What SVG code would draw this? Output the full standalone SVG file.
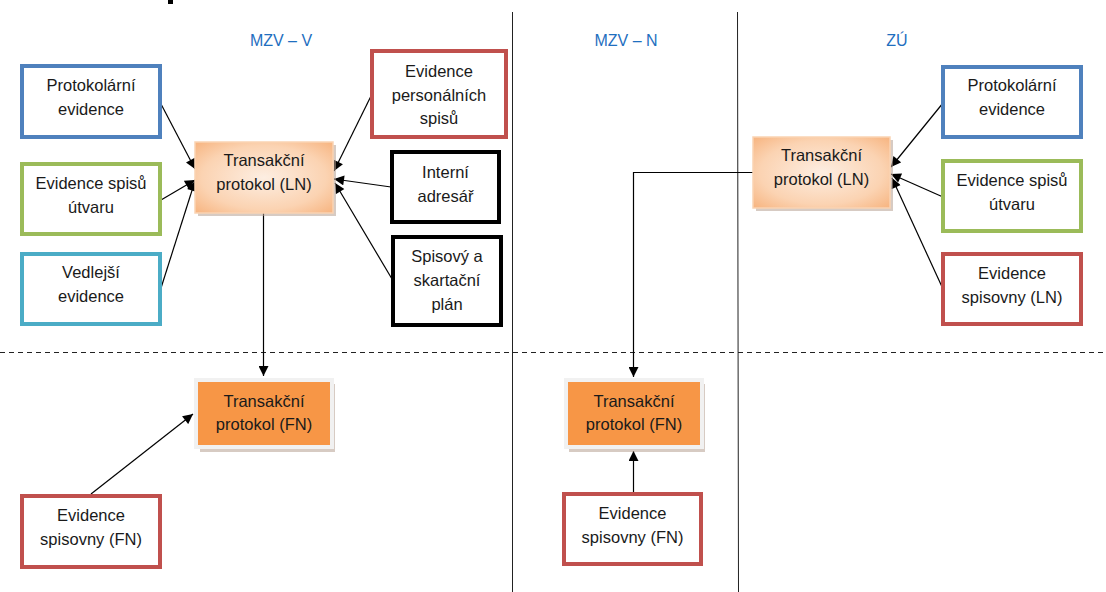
<svg xmlns="http://www.w3.org/2000/svg" width="1106" height="592" viewBox="0 0 1106 592">
<style>
text{font-family:"Liberation Sans",Arial,sans-serif;font-size:16.5px;fill:#1a1a1a;text-anchor:middle}
.hdr{fill:#1f6fbf;font-size:16px}
.box{fill:#fff;stroke-width:4}
.blue{stroke:#4f81bd}.green{stroke:#9bbb59}.cyan{stroke:#4bacc6}.red{stroke:#c0504d}.black{stroke:#000}
.ln{fill:url(#lg);stroke:#fad3b3;stroke-width:1.5}
.fn{fill:#f79646;stroke:#f1f1f1;stroke-width:4}
.sh{fill:#b7a191;opacity:.55}
.c{stroke:#000;stroke-width:1.2;fill:none}
.sep{stroke:#222;stroke-width:1}
</style>
<defs>
<radialGradient id="lg" cx="50%" cy="50%" r="75%">
<stop offset="0" stop-color="#fdeee2"/>
<stop offset="0.6" stop-color="#fbd3b2"/>
<stop offset="1" stop-color="#f6ae76"/>
</radialGradient>
<marker id="ah" viewBox="0 0 10 10" refX="10" refY="5" markerWidth="11" markerHeight="10" markerUnits="userSpaceOnUse" orient="auto">
<path d="M0,0 L10,5 L0,10 z" fill="#000"/>
</marker>
</defs>
<rect width="1106" height="592" fill="#fff"/>
<rect x="168" y="0" width="5" height="4" fill="#000"/>
<g id="separators">
<line class="sep" x1="512.5" y1="12" x2="512.5" y2="592"/>
<line class="sep" x1="737.5" y1="12" x2="738.5" y2="592"/>
<line class="sep" x1="0" y1="352.5" x2="1106" y2="352.5" stroke-dasharray="5,4"/>
</g>
<g id="headers">
<text class="hdr" x="281" y="46">MZV – V</text>
<text class="hdr" x="626" y="46">MZV – N</text>
<text class="hdr" x="897" y="46">ZÚ</text>
</g>
<g id="connectors">
<line class="c" x1="161" y1="104" x2="195" y2="169" marker-end="url(#ah)"/>
<line class="c" x1="161" y1="200" x2="195" y2="180" marker-end="url(#ah)"/>
<line class="c" x1="161" y1="288" x2="195" y2="181" marker-end="url(#ah)"/>
<line class="c" x1="372" y1="94" x2="334" y2="171" marker-end="url(#ah)"/>
<line class="c" x1="391" y1="187" x2="334" y2="179" marker-end="url(#ah)"/>
<line class="c" x1="392" y1="279" x2="335" y2="183" marker-end="url(#ah)"/>
<line class="c" x1="263.5" y1="213" x2="263.5" y2="376" marker-end="url(#ah)"/>
<line class="c" x1="91" y1="494" x2="193" y2="414" marker-end="url(#ah)"/>
<polyline class="c" points="753,172.5 633.5,172.5 633.5,377" marker-end="url(#ah)"/>
<line class="c" x1="633.5" y1="493" x2="633.5" y2="451" marker-end="url(#ah)"/>
<line class="c" x1="943" y1="103" x2="891" y2="167" marker-end="url(#ah)"/>
<line class="c" x1="943" y1="197" x2="891" y2="174" marker-end="url(#ah)"/>
<line class="c" x1="943" y1="289" x2="892" y2="178" marker-end="url(#ah)"/>
</g>
<g id="n-protokolarni-v">
<rect class="box blue" x="22" y="66" width="138" height="71"/>
<text x="91" y="91">Protokolární</text><text x="91" y="115">evidence</text>
</g>
<g id="n-spisu-utvaru-v">
<rect class="box green" x="22" y="164" width="138" height="70"/>
<text x="91" y="189">Evidence spisů</text><text x="91" y="213">útvaru</text>
</g>
<g id="n-vedlejsi-v">
<rect class="box cyan" x="22" y="254" width="138" height="70"/>
<text x="91" y="278">Vedlejší</text><text x="91" y="302">evidence</text>
</g>
<g id="n-tp-ln-v">
<rect class="sh" x="198" y="145" width="138" height="71"/>
<rect class="ln" x="195" y="142" width="138" height="71"/>
<text x="264" y="166">Transakční</text><text x="264" y="190">protokol (LN)</text>
</g>
<g id="n-personalnich-v">
<rect class="box red" x="372" y="51" width="134" height="86"/>
<text x="439" y="77">Evidence</text><text x="439" y="101">personálních</text><text x="439" y="124">spisů</text>
</g>
<g id="n-interni-v">
<rect class="box black" x="392" y="152" width="107" height="70"/>
<text x="445.5" y="178">Interní</text><text x="445.5" y="202">adresář</text>
</g>
<g id="n-spisovy-plan-v">
<rect class="box black" x="393" y="237" width="108" height="88"/>
<text x="447" y="262">Spisový a</text><text x="447" y="286">skartační</text><text x="447" y="310">plán</text>
</g>
<g id="n-tp-fn-v">
<rect class="sh" x="200" y="384" width="135" height="68"/>
<rect class="fn" x="196" y="380" width="136" height="67"/>
<text x="264" y="407">Transakční</text><text x="264" y="430">protokol (FN)</text>
</g>
<g id="n-spisovny-fn-v">
<rect class="box red" x="22" y="496" width="138" height="71"/>
<text x="91" y="521">Evidence</text><text x="91" y="545">spisovny (FN)</text>
</g>
<g id="n-tp-fn-n">
<rect class="sh" x="569" y="384" width="136" height="68"/>
<rect class="fn" x="566" y="380" width="136" height="67"/>
<text x="634" y="407">Transakční</text><text x="634" y="430">protokol (FN)</text>
</g>
<g id="n-spisovny-fn-n">
<rect class="box red" x="564" y="494" width="137" height="70"/>
<text x="632.5" y="519">Evidence</text><text x="632.5" y="543">spisovny (FN)</text>
</g>
<g id="n-tp-ln-z">
<rect class="sh" x="756" y="140" width="137" height="71"/>
<rect class="ln" x="753" y="137" width="137" height="71"/>
<text x="821.5" y="161">Transakční</text><text x="821.5" y="185">protokol (LN)</text>
</g>
<g id="n-protokolarni-z">
<rect class="box blue" x="943" y="67" width="138" height="70"/>
<text x="1012" y="91">Protokolární</text><text x="1012" y="115">evidence</text>
</g>
<g id="n-spisu-utvaru-z">
<rect class="box green" x="943" y="161" width="138" height="70"/>
<text x="1012" y="186">Evidence spisů</text><text x="1012" y="210">útvaru</text>
</g>
<g id="n-spisovny-ln-z">
<rect class="box red" x="943" y="254" width="138" height="70"/>
<text x="1012" y="279">Evidence</text><text x="1012" y="303">spisovny (LN)</text>
</g>
</svg>
